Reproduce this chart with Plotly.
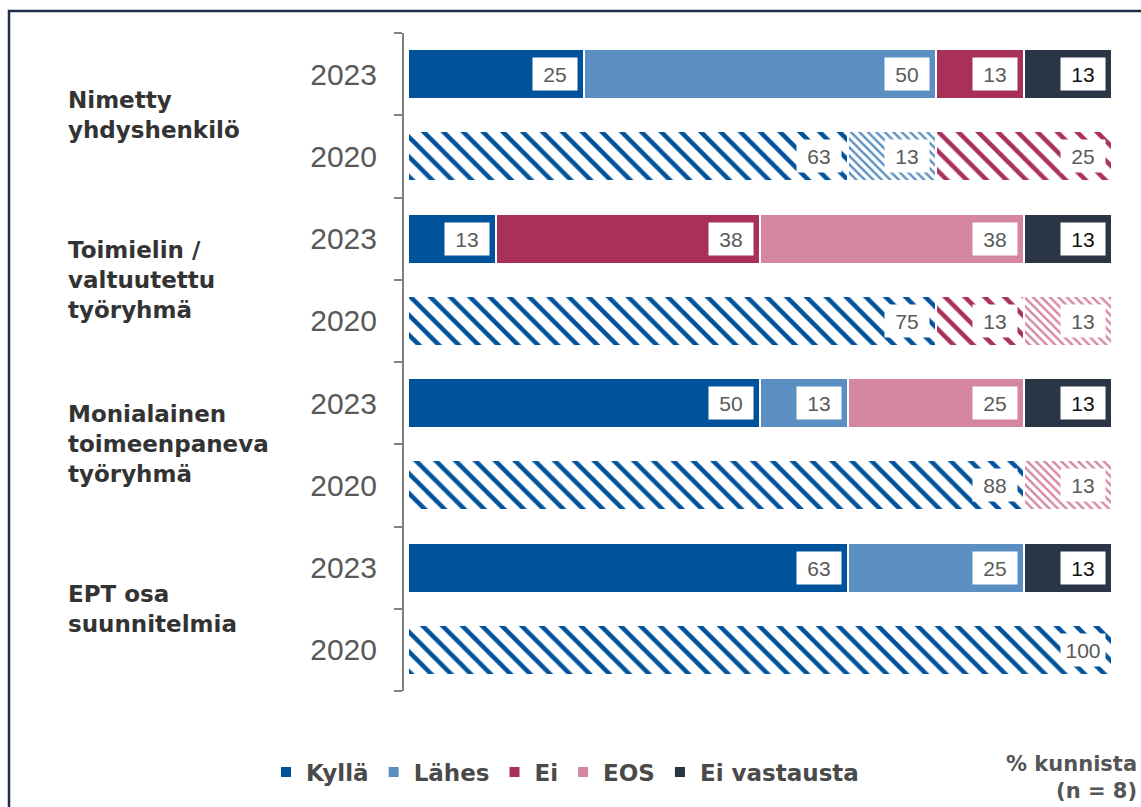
import plotly.graph_objects as go

# ---- data ----
groups = ["Nimetty<br>yhdyshenkilö", "Toimielin /<br>valtuutettu<br>työryhmä",
          "Monialainen<br>toimeenpaneva<br>työryhmä", "EPT osa<br>suunnitelmia"]
years = ["2023", "2020"]
series = ["Kyllä", "Lähes", "Ei", "EOS", "Ei vastausta"]
colors = ["#00529B", "#5B8FC3", "#A93159", "#D4869E", "#2A3546"]

kylla_2023 = [25, 12.5, 50, 62.5]
lahes_2023 = [50, 0, 12.5, 25]
ei_2023 = [12.5, 37.5, 0, 0]
eos_2023 = [0, 37.5, 25, 0]
eiv_2023 = [12.5, 12.5, 12.5, 12.5]

kylla_2020 = [62.5, 75, 87.5, 100]
lahes_2020 = [12.5, 0, 0, 0]
ei_2020 = [25, 12.5, 0, 0]
eos_2020 = [0, 12.5, 12.5, 0]
eiv_2020 = [0, 0, 0, 0]

vals_2023 = [kylla_2023, lahes_2023, ei_2023, eos_2023, eiv_2023]
vals_2020 = [kylla_2020, lahes_2020, ei_2020, eos_2020, eiv_2020]
pattern_sizes = [14, 6, 14, 6, 14]

# ---- build ----
cats = []
for gi in range(len(groups)):
    for yr in years:
        cats.append(f"g{gi}_{yr}")
cats_2023 = [f"g{gi}_2023" for gi in range(len(groups))]
cats_2020 = [f"g{gi}_2020" for gi in range(len(groups))]

fig = go.Figure()
for si, name in enumerate(series):
    fig.add_trace(go.Bar(
        y=cats_2023, x=[v if v else None for v in vals_2023[si]], orientation="h",
        name=name, marker=dict(color=colors[si], line=dict(color="white", width=2)),
        legendgroup=name, showlegend=True, hoverinfo="x+name"))
for si, name in enumerate(series):
    fig.add_trace(go.Bar(
        y=cats_2020, x=[v if v else None for v in vals_2020[si]], orientation="h",
        name=name, legendgroup=name, showlegend=False, hoverinfo="x+name",
        marker=dict(color=colors[si], line=dict(color="white", width=2),
                    pattern=dict(shape="\\", fillmode="replace", fgcolor=colors[si],
                                 bgcolor="white", size=pattern_sizes[si],
                                 solidity=0.32 if pattern_sizes[si] > 10 else 0.4))))

# value label boxes
annotations = []
for vals, ycats in ((vals_2023, cats_2023), (vals_2020, cats_2020)):
    for gi in range(len(groups)):
        cum = 0
        for si in range(len(series)):
            v = vals[si][gi]
            if not v:
                continue
            cum += v
            dark = si == 4
            annotations.append(dict(
                x=cum, y=ycats[gi], xref="x", yref="y", text=str(int(v + 0.5)),
                showarrow=False, xanchor="right", yanchor="middle", xshift=-6,
                width=42, height=30, bgcolor="white",
                font=dict(family="Liberation Sans, Arial", size=21,
                          color="#111111" if dark else "#5a5a5a")))

# group labels
for gi, g in enumerate(groups):
    annotations.append(dict(
        x=(66 - 404) / 708, xref="paper", y=gi * 2 + 0.5, yref="y", text=g,
        showarrow=False, xanchor="left", yanchor="middle", align="left",
        font=dict(family="DejaVu Sans", size=23, color="#333333", weight="bold")))

annotations.append(dict(
    x=(1139 - 404) / 708, xref="paper", y=-(777 - 691) / 658, yref="paper",
    text="% kunnista<br>(n = 8)", showarrow=False, xanchor="right", yanchor="middle",
    align="right", font=dict(family="DejaVu Sans", size=21, color="#555555", weight="bold")))

fig.update_layout(
    width=1141, height=807,
    margin=dict(l=404, r=29, t=33, b=116),
    paper_bgcolor="white", plot_bgcolor="white",
    barmode="stack", bargap=0.39,
    annotations=annotations,
    legend=dict(orientation="h", x=(266 - 404) / 708, xanchor="left",
                y=-(772 - 691) / 658, yanchor="middle",
                font=dict(family="DejaVu Sans", size=23, color="#4a4a4a", weight="bold"),
                itemwidth=30, traceorder="normal"),
    xaxis=dict(range=[-0.568, 100], showline=False, showgrid=False, zeroline=False,
               showticklabels=False, ticks=""),
    yaxis=dict(type="category", categoryorder="array", categoryarray=cats,
               autorange="reversed", tickmode="array", tickvals=cats,
               ticktext=[c.split("_")[1] for c in cats],
               showline=True, linecolor="#808080", linewidth=2,
               ticks="outside", tickson="boundaries", ticklen=8, tickcolor="#808080",
               tickwidth=2, showgrid=False, zeroline=False,
               tickfont=dict(family="Liberation Sans, Arial", size=30, color="#595959"),
               ticklabelstandoff=19),
    shapes=[dict(type="rect", xref="paper", yref="paper",
                 x0=(9 - 404) / 708, x1=(1160 - 404) / 708,
                 y0=-(830 - 691) / 658, y1=1 + (33 - 11) / 658,
                 line=dict(color="#1F2D4A", width=2.5), fillcolor="rgba(0,0,0,0)",
                 layer="below")],
    showlegend=True,
)

fig.write_html("out.html", config={"displayModeBar": False},
               post_script="document.body.style.margin='0';")
